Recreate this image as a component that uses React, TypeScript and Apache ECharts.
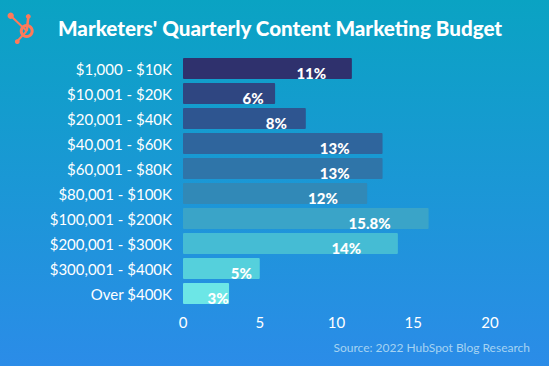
import React, { useEffect, useRef } from "react";
import * as echarts from "echarts";

const categories = [
  "$1,000 - $10K",
  "$10,001 - $20K",
  "$20,001 - $40K",
  "$40,001 - $60K",
  "$60,001 - $80K",
  "$80,001 - $100K",
  "$100,001 - $200K",
  "$200,001 - $300K",
  "$300,001 - $400K",
  "Over $400K",
];
const barValues = [11, 6, 8, 13, 13, 12, 16, 14, 5, 3];
const valueLabels = ["11%", "6%", "8%", "13%", "13%", "12%", "15.8%", "14%", "5%", "3%"];
const xTicks = [0, 5, 10, 15, 20];

const barColors = [
  "#2f316d",
  "#2f4681",
  "#2e5590",
  "#2f659d",
  "#2f75a9",
  "#3189b7",
  "#3aa4c8",
  "#45bcd4",
  "#55d0dc",
  "#6ce6e6",
];

const ORANGE = "#ff7a59";

export default function App() {
  const ref = useRef<HTMLDivElement>(null);
  useEffect(() => {
    if (!ref.current) return;
    const chart = echarts.init(ref.current, null, { renderer: "svg" });
    chart.setOption({
      animation: false,
      backgroundColor: {
        type: "linear",
        x: 0,
        y: 0,
        x2: 0,
        y2: 1,
        colorStops: [
          { offset: 0, color: "#0aa3c3" },
          { offset: 1, color: "#2b8ce8" },
        ],
      },
      title: {
        text: "Marketers' Quarterly Content Marketing Budget",
        left: 53,
        top: 12,
        textStyle: {
          color: "#ffffff",
          fontFamily: "Lato",
          fontWeight: 900,
          fontSize: 20.6,
        },
      },
      grid: { left: 183, right: 59, top: 56, bottom: 60, containLabel: false },
      xAxis: {
        type: "value",
        min: xTicks[0],
        max: xTicks[xTicks.length - 1],
        interval: 5,
        splitLine: { show: false },
        axisLine: { show: false },
        axisTick: { show: false },
        axisLabel: {
          color: "#ffffff",
          fontFamily: "Lato",
          fontSize: 15,
          margin: 8,
        },
      },
      yAxis: {
        type: "category",
        data: categories,
        inverse: true,
        axisLine: { show: false },
        axisTick: { show: false },
        axisLabel: {
          color: "#ffffff",
          fontFamily: "Lato",
          fontSize: 15,
          margin: 11,
        },
      },
      series: [
        {
          type: "bar",
          barCategoryGap: "16%",
          data: barValues.map((v, i) => ({
            value: v,
            itemStyle: { color: barColors[i], borderRadius: 1 },
          })),
          label: {
            show: true,
            position: ["76%", "70%"],
            align: "center",
            verticalAlign: "middle",
            color: "#ffffff",
            fontFamily: "Lato",
            fontWeight: 900,
            fontSize: 15,
            formatter: (p: any) => valueLabels[p.dataIndex],
          },
        },
      ],
      graphic: [
        {
          type: "group",
          children: [
            { type: "line", shape: { x1: 26.7, y1: 31, x2: 28.3, y2: 17 }, style: { stroke: ORANGE, lineWidth: 2.5 } },
            { type: "line", shape: { x1: 26.7, y1: 31, x2: 11, y2: 16 }, style: { stroke: ORANGE, lineWidth: 2 } },
            { type: "line", shape: { x1: 26.7, y1: 31, x2: 17, y2: 41.5 }, style: { stroke: ORANGE, lineWidth: 2 } },
            { type: "ring", shape: { cx: 26.7, cy: 31, r: 7, r0: 4 }, style: { fill: ORANGE } },
            { type: "circle", shape: { cx: 10.7, cy: 15.7, r: 3.2 }, style: { fill: ORANGE } },
            { type: "circle", shape: { cx: 28.3, cy: 16.5, r: 2.4 }, style: { fill: ORANGE } },
            { type: "circle", shape: { cx: 17.3, cy: 41.7, r: 2.4 }, style: { fill: ORANGE } },
          ],
        },
        {
          type: "text",
          right: 19,
          top: 341,
          style: {
            text: "Source: 2022 HubSpot Blog Research",
            fill: "#a5d3f2",
            fontFamily: "Lato",
            fontSize: 12,
          },
        },
      ],
    });
    return () => chart.dispose();
  }, []);
  return (
    <div
      ref={ref}
      style={{ position: "fixed", left: 0, top: 0, width: 549, height: 366 }}
    />
  );
}
